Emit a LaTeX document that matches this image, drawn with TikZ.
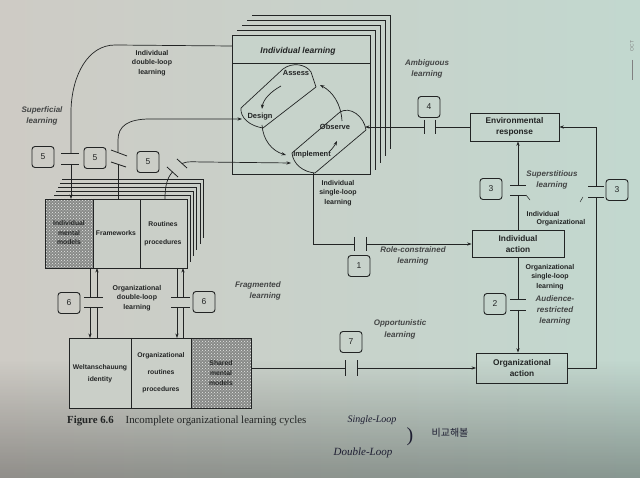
\documentclass[tikz,border=0pt]{standalone}
\usepackage{fontspec}
\setmainfont{Liberation Serif}
\setsansfont{Liberation Sans}
\newfontfamily\krfont{Noto Sans CJK KR}
\usetikzlibrary{arrows.meta,patterns,fadings}
\definecolor{ink}{RGB}{34,36,36}
\definecolor{bgL}{RGB}{206,203,197}
\definecolor{bgR}{RGB}{194,216,207}
\definecolor{hatchc}{RGB}{136,138,136}
\definecolor{pen}{RGB}{30,30,50}
\tikzfading[name=softup, top color=transparent!100, bottom color=transparent!0]
\tikzset{
  conn/.style={draw=ink, line width=0.7pt},
  arr/.style={conn, -{Stealth[length=4.5pt,width=3.2pt]}},
  bar/.style={draw=ink, line width=0.8pt},
  numbox/.style={draw=ink, line width=0.9pt, rounded corners=3pt, minimum width=22pt, minimum height=21pt, inner sep=0pt, font=\sffamily\fontsize{8.5}{9}\selectfont, text=ink},
  lbl/.style={font=\sffamily\bfseries\fontsize{7}{9.7}\selectfont, text=ink, align=center, inner sep=0pt},
  ital/.style={font=\sffamily\bfseries\itshape\fontsize{8}{11}\selectfont, text=ink!85, align=center, inner sep=0pt},
  abox/.style={draw=ink, line width=0.8pt, align=center, inner sep=0pt, font=\sffamily\bfseries\fontsize{8.3}{11}\selectfont, text=ink},
  cell/.style={draw=ink, line width=0.8pt},
  hatched/.style={fill=hatchc},
  dotsfill/.style={pattern=crosshatch dots, pattern color=white!80!hatchc},
  celltext/.style={font=\sffamily\bfseries\fontsize{6.8}{9.5}\selectfont, text=ink, align=center, inner sep=0pt},
  cyc/.style={font=\sffamily\bfseries\fontsize{7.5}{9}\selectfont, text=ink, inner sep=0pt},
  frame/.style={draw=ink, line width=0.7pt},
  hand/.style={font=\itshape, text=pen, inner sep=0pt},
}
\begin{document}
\begin{tikzpicture}[x=1pt,y=-1pt]
\useasboundingbox (0,0) rectangle (640,478);
% background
\shade[left color=bgL, right color=bgR] (0,0) rectangle (640,478);
\fill[black, opacity=0.3, path fading=softup] (0,360) rectangle (640,478);
\node[font=\sffamily\fontsize{5}{5}\selectfont, text=gray, rotate=90] (oct) at (632,46) {OCT};
\draw[gray, line width=0.4pt] (632,60) -- (632,80);

% ---------- Individual learning stack ----------
\foreach \i/\b in {4/149,3/156,2/163,1/170}{
  \draw[frame] (232+5*\i,35-5*\i) -- (370+5*\i,35-5*\i) -- (370+5*\i,\b);
}
\fill[bgR!60!bgL] (232,35) rectangle (370,174);
\draw[frame, line width=0.8pt] (232,35) rectangle (370,174);
\draw[frame] (232,63) -- (370,63);
\node[font=\sffamily\bfseries\itshape\fontsize{8.5}{10}\selectfont, text=ink] (iltitle) at (298,51) {Individual learning};
\coordinate (ilw) at (232,46);

% cycle shapes
\draw[conn] (241,108) -- (283,69) .. controls (292,62) and (306,64) .. (311,72) -- (316,87) -- (263,128) .. controls (250,126) and (240,118) .. cycle;
\draw[conn] (292,153) -- (340,112) .. controls (350,106) and (364,116) .. (366,130) -- (315,173) .. controls (303,172) and (293,164) .. cycle;
\node[cyc] (assess) at (296,73) {Assess};
\node[cyc] (design) at (260,117) {Design};
\node[cyc] (observe) at (335,127) {Observe};
\node[cyc] (implement) at (312,155) {Implement};
\draw[arr] (342,121) .. controls (341,104) and (333,92) .. (320,85);
\draw[arr] (281,86) .. controls (270,92) and (263,100) .. (262,109);
\draw[arr] (262,125) .. controls (263,140) and (272,151) .. (286,155);
\draw[arr] (329,152) .. controls (333,148) and (335,145) .. (337,141);
\coordinate (des) at (242,119);
\coordinate (imp) at (291,163);
\coordinate (obs) at (365,127);
\coordinate (impb) at (313,173);

% ---------- top-left knowledge box ----------
\foreach \i in {5,4,3,2,1}{
  \draw[frame, line width=0.6pt] (52+2*\i,199-4*\i) -- (187+3.2*\i,199-4*\i) -- (187+3.2*\i,268-6*\i);
}
\fill[bgL!70!bgR] (45,199) rectangle (187,268);
\fill[hatched] (45,199) rectangle (93,268);
\fill[dotsfill] (45,199) rectangle (93,268);
\draw[cell] (45,199) rectangle (187,268);
\draw[cell] (93,199) -- (93,268);
\draw[cell] (140,199) -- (140,268);
\node[celltext] (imm) at (69,233) {Individual\\mental\\models};
\node[celltext] (fwk) at (116,233) {Frameworks};
\node[celltext] (rtn) at (163,233.5) {Routines\\[8pt]procedures};
\coordinate (immtop) at (71,199);
\coordinate (fwtop) at (118,199);
\coordinate (rptop) at (165,199);

% ---------- bottom organizational box ----------
\fill[bgL!70!bgR] (69,338) rectangle (251,408);
\fill[hatched] (191,338) rectangle (251,408);
\fill[dotsfill] (191,338) rectangle (251,408);
\draw[cell] (69,338) rectangle (251,408);
\draw[cell] (131,338) -- (131,408);
\draw[cell] (191,338) -- (191,408);
\node[celltext, font=\sffamily\bfseries\fontsize{6.8}{12}\selectfont] (welt) at (100,374) {Weltanschauung\\identity};
\node[celltext, font=\sffamily\bfseries\fontsize{6.8}{17}\selectfont] (orp) at (161,373) {Organizational\\routines\\procedures};
\node[celltext, font=\sffamily\bfseries\fontsize{6.8}{10}\selectfont] (smm) at (221,373) {Shared\\mental\\models};
\coordinate (smme) at (251,368);

% ---------- action boxes ----------
\node[abox, minimum width=89pt, minimum height=28pt] (env) at (514.5,127) {Environmental\\response};
\node[abox, minimum width=92pt, minimum height=27pt] (ia) at (518,244) {Individual\\action};
\node[abox, minimum width=91pt, minimum height=30pt] (oa) at (522,368) {Organizational\\action};

% ---------- number boxes ----------
\node[numbox] (n5a) at (43,157) {5};
\node[numbox] (n5b) at (95,158) {5};
\node[numbox] (n5c) at (148,162) {5};
\node[numbox] (n4) at (429,107) {4};
\node[numbox] (n3a) at (491,189) {3};
\node[numbox] (n3b) at (617,190) {3};
\node[numbox] (n1) at (359,266) {1};
\node[numbox] (n2) at (495,304) {2};
\node[numbox] (n7) at (351,342) {7};
\node[numbox] (n6a) at (69,303) {6};
\node[numbox] (n6b) at (204,302) {6};

% ---------- connectors ----------
% 5: individual double-loop (superficial)
\draw[conn] (ilw) -- (115,45) .. controls (88,45) and (72,75) .. (71,110) -- (71,153);
\draw[arr] (71,164) -- (immtop);
\draw[bar] (61,153) -- (79,153);
\draw[bar] (61,164) -- (79,164);
% 5: frameworks
\draw[conn] (fwtop) -- (118,164.5);
\draw[arr] (118,152.5) -- (118,140) .. controls (118,126) and (128,119) .. (150,119) -- (des);
\draw[bar] (111,150) -- (127,156);
\draw[bar] (111,162) -- (126,167);
% 5: routines
\draw[conn] (rptop) .. controls (165,186) and (167,178) .. (172.5,172);
\draw[arr] (182,163.5) .. controls (187,161) and (194,162) .. (205,162) -- (imp);
\draw[bar] (167,167) -- (178,177);
\draw[bar] (177,159) -- (187,168);
% 6: organizational double-loop (left)
\draw[conn] (90,268) -- (90,297);
\draw[arr] (90,307) -- (90,338);
\draw[conn] (97,338) -- (97,307);
\draw[arr] (97,297) -- (97,268);
\draw[bar] (84,297) -- (103,297);
\draw[bar] (84,307) -- (103,307);
% 6: right
\draw[conn] (177,268) -- (177,297);
\draw[arr] (177,307) -- (177,338);
\draw[conn] (183,338) -- (183,307);
\draw[arr] (183,297) -- (183,268);
\draw[bar] (171,297) -- (190,297);
\draw[bar] (171,307) -- (190,307);
% 4: ambiguous
\draw[conn] (env.west) -- (435,127);
\draw[arr] (424,127) -- (obs);
\draw[bar] (424,120) -- (424,134);
\draw[bar] (435,120) -- (435,134);
% 1: role-constrained
\draw[conn] (impb) -- (313,244) -- (354,244);
\draw[arr] (366,244) -- (ia.west);
\draw[bar] (354,237) -- (354,251);
\draw[bar] (366,237) -- (366,251);
% 3: superstitious (individual)
\draw[conn] (ia.north) -- (518,195);
\draw[arr] (518,185) -- (env.south -| ia.north);
\draw[bar] (510,185) -- (526,185);
\draw[bar] (510,195) -- (526,195);
% 3: superstitious (organizational)
\draw[conn] (oa.east) -- (596,368) -- (596,197);
\draw[arr] (596,186) -- (596,127) -- (env.east);
\draw[bar] (588,186) -- (604,186);
\draw[bar] (588,197) -- (604,197);
\draw[conn, line width=0.5pt] (526,195) -- (530,200);
\draw[conn, line width=0.5pt] (583,197) -- (580,202);
% 2: audience-restricted
\draw[conn] (ia.south) -- (518,299);
\draw[arr] (518,310) -- (ia.south |- oa.north);
\draw[bar] (510,299) -- (526,299);
\draw[bar] (510,310) -- (526,310);
% 7: opportunistic
\draw[conn] (smme) -- (345,368);
\draw[arr] (357,368) -- (oa.west);
\draw[bar] (345,360) -- (345,376);
\draw[bar] (357,360) -- (357,376);

% ---------- labels ----------
\node[ital] (lsup) at (42,116) {Superficial\\learning};
\node[lbl] (lidl) at (152,63) {Individual\\double-loop\\learning};
\node[ital] (lamb) at (427,69) {Ambiguous\\learning};
\node[ital] (lsst) at (552,180) {Superstitious\\learning};
\node[lbl] (lind) at (543,214) {Individual};
\node[lbl] (lorg) at (561,223) {Organizational};
\node[lbl] (lisl) at (338,193) {Individual\\single-loop\\learning};
\node[ital] (lrole) at (413,256) {Role-constrained\\learning};
\node[lbl] (losl) at (550,277) {Organizational\\single-loop\\learning};
\node[ital] (laud) at (555,310) {Audience-\\restricted\\learning};
\node[ital, font=\sffamily\bfseries\itshape\fontsize{8}{12}\selectfont] (lopp) at (400,329) {Opportunistic\\learning};
\node[lbl] (lodl) at (137,298) {Organizational\\double-loop\\learning};
\node[ital, anchor=east, align=right] (lfrag) at (281,291) {Fragmented\\learning};

% ---------- caption ----------
\node[anchor=west, font=\fontsize{10.8}{12}\selectfont, text=ink, inner sep=0pt] (cap) at (67,421) {\textbf{Figure 6.6}\hspace{1.1em}Incomplete organizational learning cycles};

% ---------- handwritten notes ----------
\node[hand, font=\itshape\fontsize{10}{12}\selectfont] (hw1) at (372,420) {Single-Loop};
\node[hand, font=\itshape\fontsize{11}{12}\selectfont] (hw2) at (363,453) {Double-Loop};
\node[hand, font=\fontsize{20}{20}\selectfont] (hw3) at (410,437) {)};
\node[hand, font=\krfont\fontsize{10}{11}\selectfont] (hw4) at (450,433) {비교해볼};
\end{tikzpicture}
\end{document}
